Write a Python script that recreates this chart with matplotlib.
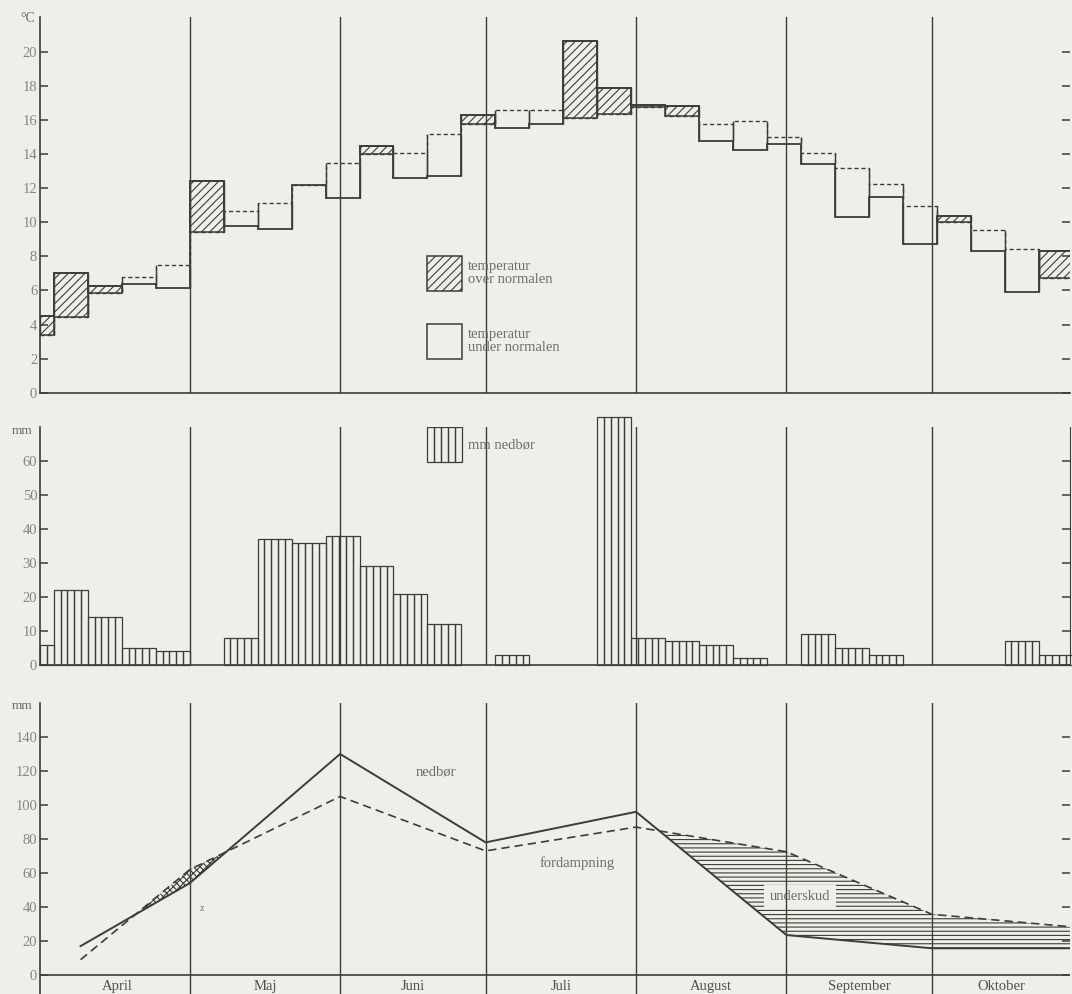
import matplotlib.pyplot as plt
from matplotlib.patches import Rectangle
import numpy as np

# Ugeværdier: første (delvise) uge i april + 30 hele uger frem til slutningen af oktober
temp_normal = [3.4, 4.45, 5.85, 6.8, 7.5, 9.4, 10.65, 11.1, 12.2, 13.45, 14.0, 14.05, 15.15, 15.75,
               16.6, 16.6, 16.1, 16.35, 16.75, 16.25, 15.75, 15.95, 15.0, 14.05, 13.15, 12.25,
               10.95, 10.0, 9.55, 8.4, 6.7]
temp_aar = [4.5, 7.0, 6.25, 6.4, 6.15, 12.4, 9.75, 9.6, 12.2, 11.4, 14.45, 12.6, 12.7, 16.3,
            15.55, 15.75, 20.6, 17.85, 16.9, 16.8, 14.75, 14.25, 14.6, 13.4, 10.3, 11.5,
            8.7, 10.35, 8.3, 5.9, 8.3]
nedbor_uge = [6, 22, 14, 5, 4, 0, 8, 37, 36, 38, 29, 21, 12, 0, 3, 0, 0, 73, 8, 7, 6, 2,
              0, 9, 5, 3, 0, 0, 0, 7, 3]

# Vandbalance (dage regnet fra 1. april)
vand_dage = [7.5, 30, 61, 91, 122, 153, 183, 211.5]
nedbor_sum = [17, 54, 130, 78, 96, 23.5, 15.7, 15.7]
fordampning = [9, 62, 105, 73, 87, 72.5, 35.7, 28.4]

maaneder = ['April', 'Maj', 'Juni', 'Juli', 'August', 'September', 'Oktober']
maaned_start = [0, 30, 61, 91, 122, 153, 183, 214]

BG = '#efefea'
INK = '#3b3e34'
TICK = '#84867d'
TXT = '#6c6e65'

plt.rcParams['font.family'] = ['Liberation Serif', 'DejaVu Serif']
plt.rcParams['hatch.color'] = INK
plt.rcParams['hatch.linewidth'] = 0.8

W, H = 1072, 994
fig = plt.figure(figsize=(W / 100, H / 100), dpi=100, facecolor=BG)

# x-akse i dage; venstre akse ved 40 px, højre kant ved 1070 px
x0 = (40 - 44.2) / 4.851
x1 = (1070 - 44.2) / 4.851


def akse(top, bund):
    return fig.add_axes([40 / W, 1 - bund / H, 1030 / W, (bund - top) / H])


def stil(ax, ticks, ylim):
    ax.set_facecolor('none')
    ax.set_xlim(x0, x1)
    ax.set_ylim(*ylim)
    ax.set_xticks([])
    ax.set_yticks(ticks)
    ax.tick_params(axis='y', direction='in', length=6, width=1.1, color=INK,
                   labelcolor=TICK, labelsize=10.5, pad=2, right=True)
    for s in ['top', 'right']:
        ax.spines[s].set_visible(False)
    for s in ['left', 'bottom']:
        ax.spines[s].set_color(INK)
        ax.spines[s].set_linewidth(1.2)
    for d in maaned_start[1:-1]:
        ax.axvline(d, color=INK, lw=1.0, zorder=2)


kanter = np.concatenate([[x0], 2 + 7 * np.arange(31)])
normal = np.array(temp_normal)
aar = np.array(temp_aar)

# --- temperatur ---
ax1 = akse(17, 392.7)
stil(ax1, np.arange(0, 21, 2), (0, (392.7 - 17) / 17.05))
lo = np.minimum(normal, aar)
hi = np.maximum(normal, aar)
ax1.vlines(kanter[:-1], lo, hi, color=INK, lw=1.0)
ax1.vlines(kanter[1:], lo, hi, color=INK, lw=1.0)
ax1.stairs(aar, kanter, color=INK, lw=1.3, baseline=None)
ax1.stairs(normal, kanter, color=INK, lw=1.0, ls=(0, (3, 2)), baseline=None)
over = aar > normal
ax1.bar(kanter[:-1][over], (aar - normal)[over], width=np.diff(kanter)[over], bottom=normal[over],
        align='edge', hatch='////', facecolor='none', edgecolor=INK, lw=1.1)

ax1.add_patch(Rectangle((0.3757, 0.2707), 0.034, 0.0932, transform=ax1.transAxes,
                        hatch='////', facecolor='none', edgecolor=INK, lw=1.1))
ax1.text(0.4155, 0.318, 'temperatur\nover normalen', transform=ax1.transAxes,
         va='center', ha='left', fontsize=10.5, color=TXT, linespacing=0.95)
ax1.add_patch(Rectangle((0.3757, 0.0897), 0.034, 0.0932, transform=ax1.transAxes,
                        facecolor='none', edgecolor=INK, lw=1.1))
ax1.text(0.4155, 0.137, 'temperatur\nunder normalen', transform=ax1.transAxes,
         va='center', ha='left', fontsize=10.5, color=TXT, linespacing=0.95)
fig.text(28 / W, 1 - 19 / H, '°C', ha='center', va='center', fontsize=10, color=TXT)

# --- ugentlig nedbør ---
ax2 = akse(427, 665)
stil(ax2, np.arange(0, 61, 10), (0, 70))
ax2.spines['right'].set_visible(True)
ax2.spines['right'].set_color(INK)
for v, a, b in zip(nedbor_uge, kanter[:-1], kanter[1:]):
    if v <= 0:
        continue
    n = max(2, int(round((b - a) / 1.4)))
    sub = np.linspace(a, b, n + 1)
    ax2.bar(sub[:-1], v, width=np.diff(sub), align='edge', fill=False,
            edgecolor=INK, lw=0.9, clip_on=False)
for j in range(5):
    ax2.add_patch(Rectangle((0.3757 + j * 0.034 / 5, 0.853), 0.034 / 5, 0.147,
                            transform=ax2.transAxes, facecolor='none', edgecolor=INK, lw=0.9))
ax2.text(0.4155, 0.925, 'mm nedbør', transform=ax2.transAxes, va='center', ha='left',
         fontsize=10.5, color=TXT)
fig.text(22 / W, 1 - 431 / H, 'mm', ha='center', va='center', fontsize=9.5, color=TXT)

# --- nedbør og fordampning ---
ax3 = akse(703, 994)
stil(ax3, np.arange(0, 141, 20), (-(994 - 975) / 1.7, (975 - 703) / 1.7))
ax3.spines['bottom'].set_visible(False)
ax3.axhline(0, color=INK, lw=1.2)
d = np.array(vand_dage)
ned = np.array(nedbor_sum)
fdp = np.array(fordampning)
underskud = fdp > ned
ax3.fill_between(d, ned, fdp, where=underskud & (d < 100), interpolate=True,
                 hatch='xxxxx', facecolor='none', edgecolor=INK, lw=0)
ax3.fill_between(d, ned, fdp, where=underskud & (d > 100), interpolate=True,
                 hatch='----', facecolor='none', edgecolor=INK, lw=0)
ax3.plot(d, ned, color=INK, lw=1.4)
ax3.plot(d, fdp, color=INK, lw=1.2, ls=(0, (5, 3)))
ax3.text(80.8, 119.4, 'nedbør', ha='center', va='center', fontsize=10.5, color=TXT)
ax3.text(109.8, 65.9, 'fordampning', ha='center', va='center', fontsize=10.5, color=TXT)
ax3.text(155.8, 45.9, 'underskud', ha='center', va='center', fontsize=10.5, color=TXT,
         zorder=1.5, bbox=dict(facecolor=BG, edgecolor='none', pad=4))
ax3.text(32.5, 39.2, 'z', ha='center', va='center', fontsize=7, color=TXT)
for navn, a, b in zip(maaneder, maaned_start[:-1], maaned_start[1:]):
    midt = (max(a, x0) + min(b, x1)) / 2
    ax3.text(midt, -6.5, navn, ha='center', va='center', fontsize=10.5, color='#4f5148')
fig.text(22 / W, 1 - 706 / H, 'mm', ha='center', va='center', fontsize=9.5, color=TXT)

fig.savefig('out.png', dpi=100, facecolor=BG)
